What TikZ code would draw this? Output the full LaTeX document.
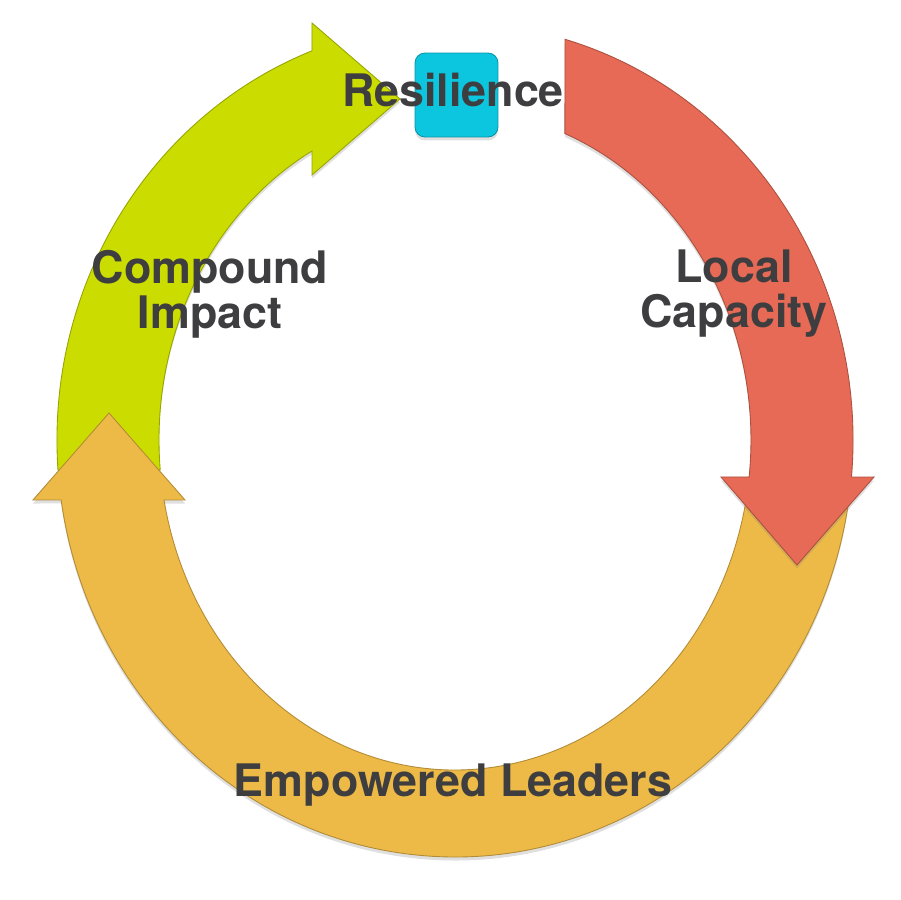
\documentclass[tikz,border=0pt]{standalone}
\usepackage{fontspec}
\setmainfont{TeX Gyre Heros}
\usepackage{tikz}
\usetikzlibrary{positioning,shadows}
\definecolor{limegreen}{HTML}{CADC00}
\definecolor{salmonred}{HTML}{E66A55}
\definecolor{goldyellow}{HTML}{EEBA47}
\definecolor{boxcyan}{HTML}{0CC6DF}
\definecolor{textgray}{HTML}{3E3E40}
\tikzstyle{ringarrow} = [line width=0.5pt,drop shadow={opacity=0.25,shadow xshift=0pt,shadow yshift=-2pt}]
\tikzstyle{ringtext} = [text=textgray,font=\fontsize{25.5}{25.6}\selectfont\bfseries,align=center,inner sep=0pt]

\begin{document}
\begin{tikzpicture}[x=0.02cm,y=0.02cm]
\useasboundingbox (0,0) rectangle (900,900);
% compound impact (green)
\draw[ringarrow,fill=limegreen,draw=limegreen!75!black] (58,430)
  arc[start angle=184.13,end angle=111.06,x radius=398,y radius=417]
  -- (312,877) -- (400,801) -- (312,725) -- (312,749)
  arc[start angle=118.89,end angle=185.22,x radius=296,y radius=330] -- cycle;
% empowered leaders (yellow)
\draw[ringarrow,fill=goldyellow,draw=goldyellow!75!black] (850.1,410)
  arc[start angle=-6.89,end angle=-171.73,x radius=398,y radius=417]
  -- (33,400) -- (109,487) -- (185,400) -- (164,400)
  arc[start angle=-169.52,end angle=-8.72,x radius=296,y radius=330] -- cycle;
% local capacity (red)
\draw[ringarrow,fill=salmonred,draw=salmonred!75!black] (565,860.7)
  arc[start angle=73.96,end angle=-5.09,x radius=398,y radius=417]
  -- (874,423) -- (797,335) -- (721,423) -- (749.1,423)
  arc[start angle=-6.44,end angle=68.2,x radius=296,y radius=330] -- cycle;
% resilience box
\node[ringarrow,draw=boxcyan!75!black,fill=boxcyan,rounded corners=0.2cm,inner sep=0pt,
  minimum width=1.66cm,minimum height=1.68cm] (resbox) at (456.5,805) {};
\node[ringtext,anchor=base] (resilience) at (453,793) {Resilience};
\node[ringtext] (compound) at (210,606) {Compound\\Impact};
\node[ringtext] (local) at (734,606) {Local\\Capacity};
\node[ringtext,anchor=base] (leaders) at (453,103) {Empowered Leaders};
\end{tikzpicture}
\end{document}
